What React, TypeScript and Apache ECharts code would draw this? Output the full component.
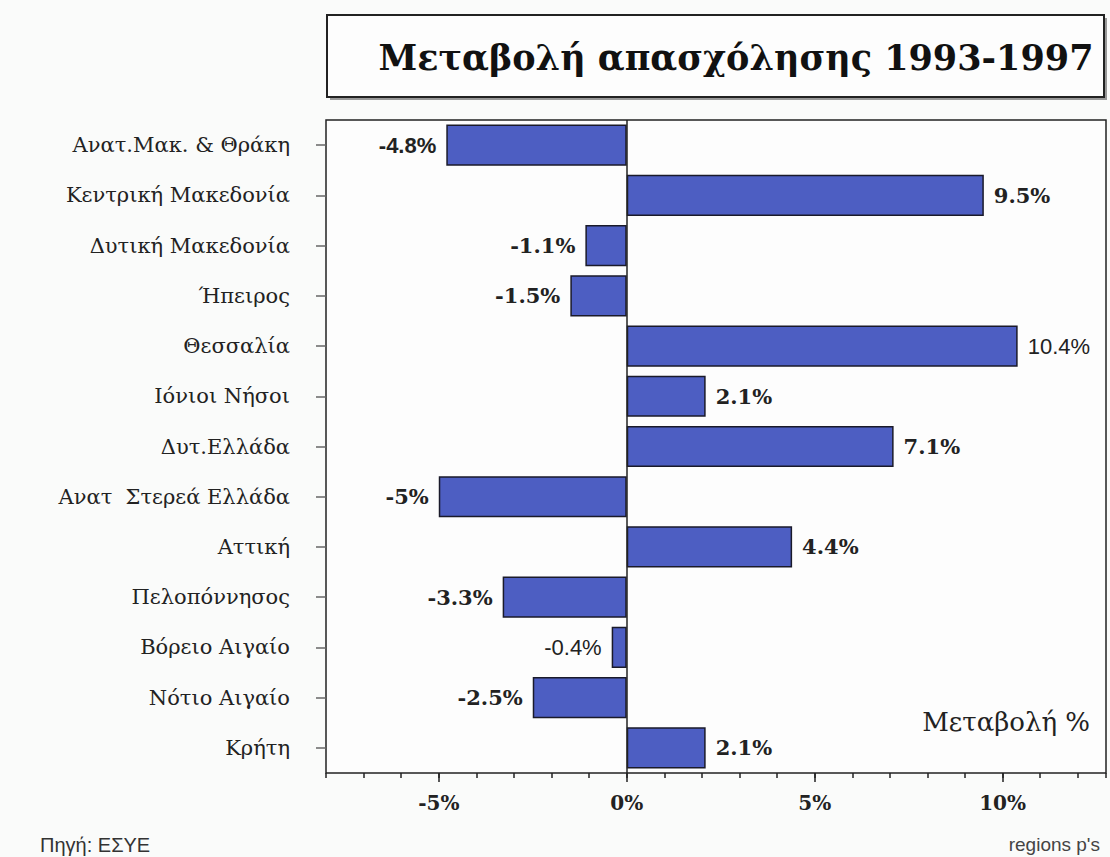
import React, { useEffect, useRef } from "react";
import * as echarts from "echarts";

const categories = [
  "Ανατ.Μακ. & Θράκη",
  "Κεντρική Μακεδονία",
  "Δυτική Μακεδονία",
  "Ήπειρος",
  "Θεσσαλία",
  "Ιόνιοι Νήσοι",
  "Δυτ.Ελλάδα",
  "Ανατ  Στερεά Ελλάδα",
  "Αττική",
  "Πελοπόννησος",
  "Βόρειο Αιγαίο",
  "Νότιο Αιγαίο",
  "Κρήτη",
];
const changes = [-4.8, 9.5, -1.1, -1.5, 10.4, 2.1, 7.1, -5, 4.4, -3.3, -0.4, -2.5, 2.1];
const majorTicks = [-5, 0, 5, 10];
const plainLabelIdx = [4, 10];
const sansBoldLabelIdx = [0];

const title = "Μεταβολή απασχόλησης 1993-1997";
const axisNote = "Μεταβολή %";
const source = "Πηγή: ΕΣΥΕ";
const footer = "regions p's";

export default function App() {
  const ref = useRef<HTMLDivElement>(null);
  useEffect(() => {
    if (!ref.current) return;
    const chart = echarts.init(ref.current, null, { renderer: "svg" });
    const serif = "'DejaVu Serif', 'Liberation Serif', serif";
    const sans = "'Liberation Sans', Arial, sans-serif";
    const data = changes.map((v, i) => {
      const plain = plainLabelIdx.includes(i);
      const sansBold = sansBoldLabelIdx.includes(i);
      return {
        value: v,
        label: {
          show: true,
          position: v < 0 ? "left" : "right",
          distance: 10,
          formatter: v + "%",
          fontFamily: plain || sansBold ? sans : serif,
          fontWeight: plain ? "normal" : "bold",
          fontSize: plain || sansBold ? 22 : 21,
          color: "#222",
        },
      };
    });
    chart.setOption({
      animation: false,
      backgroundColor: "#fafbfa",
      grid: {
        left: 326,
        top: 120,
        right: 4,
        bottom: 84,
        show: true,
        borderColor: "#222",
        borderWidth: 1.5,
        backgroundColor: "#fdfdfd",
        containLabel: false,
      },
      xAxis: [
        {
          type: "value",
          min: -8,
          max: 12.75,
          interval: 1,
          axisLine: { show: false },
          axisTick: { show: true, length: 5, lineStyle: { color: "#222", width: 1.5 } },
          axisLabel: { show: false },
          splitLine: { show: false },
        },
        {
          type: "value",
          min: -8,
          max: 12.75,
          position: "bottom",
          axisLine: { show: false },
          axisTick: { show: true, length: 9, customValues: majorTicks, lineStyle: { color: "#222", width: 1.5 } },
          axisLabel: {
            show: true,
            customValues: majorTicks,
            formatter: (v: number) => v + "%",
            margin: 20,
            fontFamily: serif,
            fontWeight: "bold",
            fontSize: 20,
            color: "#222",
          },
          splitLine: { show: false },
        },
      ],
      yAxis: {
        type: "category",
        data: categories,
        inverse: true,
        axisLine: { show: false, onZero: false },
        axisTick: { show: true, length: 10, alignWithLabel: true, lineStyle: { color: "#666", width: 1.5 } },
        axisLabel: {
          margin: 36,
          fontFamily: serif,
          fontSize: 21,
          color: "#222",
        },
      },
      series: [
        {
          type: "bar",
          data,
          barCategoryGap: "18%",
          itemStyle: { color: "#4d5ec2", borderColor: "#1a1a2a", borderWidth: 1.5 },
          markLine: {
            silent: true,
            symbol: "none",
            label: { show: false },
            lineStyle: { color: "#222", width: 1.5, type: "solid" },
            data: [{ xAxis: 0 }],
          },
        },
      ],
      graphic: [
        {
          type: "rect",
          shape: { x: 330, y: 18, width: 777, height: 82 },
          style: { fill: "#999", stroke: "none" },
          z: 1,
        },
        {
          type: "rect",
          shape: { x: 327, y: 15, width: 777, height: 82 },
          style: { fill: "#fdfdfd", stroke: "#222", lineWidth: 2 },
          z: 2,
        },
        {
          type: "text",
          x: 736,
          y: 57,
          z: 3,
          style: {
            text: title,
            fill: "#111",
            font: "bold 35px 'DejaVu Serif', 'Liberation Serif', serif",
            align: "center",
            verticalAlign: "middle",
          },
        },
        {
          type: "text",
          x: 1090,
          y: 722,
          z: 3,
          style: {
            text: axisNote,
            fill: "#222",
            font: "26px 'DejaVu Serif', 'Liberation Serif', serif",
            align: "right",
            verticalAlign: "middle",
          },
        },
        {
          type: "text",
          x: 40,
          y: 845,
          style: {
            text: source,
            fill: "#333",
            font: "20px 'Liberation Sans', Arial, sans-serif",
            align: "left",
            verticalAlign: "middle",
          },
        },
        {
          type: "text",
          x: 1100,
          y: 844,
          style: {
            text: footer,
            fill: "#444",
            font: "19px 'Liberation Sans', Arial, sans-serif",
            align: "right",
            verticalAlign: "middle",
          },
        },
      ],
    });
    return () => chart.dispose();
  }, []);
  return (
    <div
      ref={ref}
      style={{ position: "fixed", left: 0, top: 0, width: 1110, height: 857 }}
    />
  );
}
